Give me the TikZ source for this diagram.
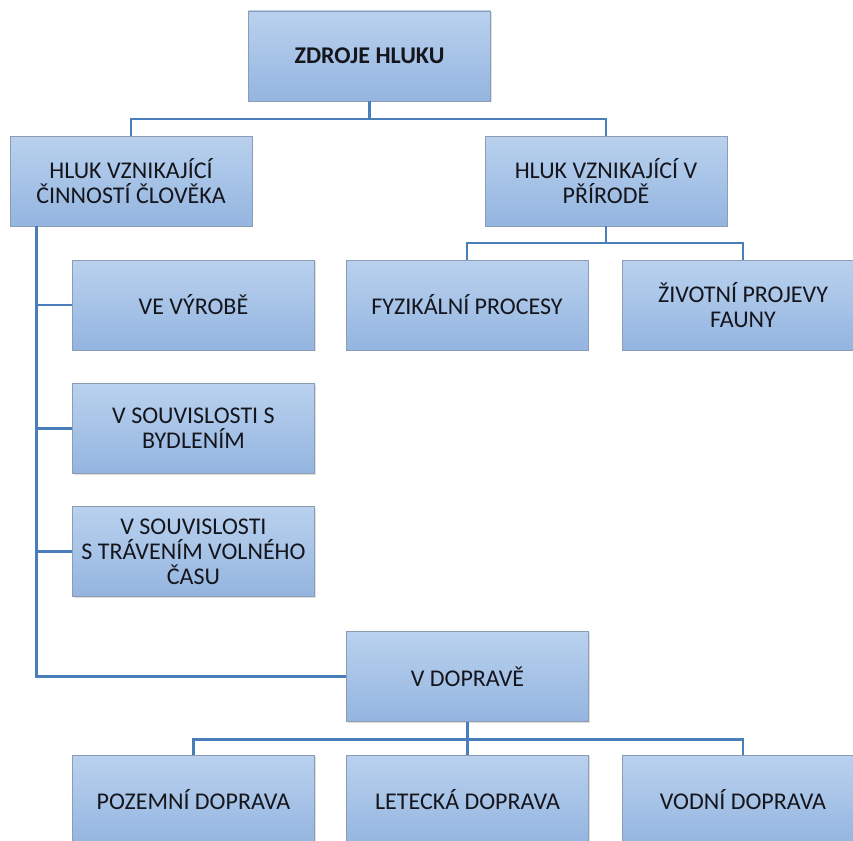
\documentclass[tikz,border=0pt]{standalone}
\usepackage{fontspec}
\setmainfont{Carlito}
\usetikzlibrary{shadows}
\definecolor{linec}{HTML}{4A7EBB}
\definecolor{boxtop}{HTML}{B9D1EE}
\definecolor{boxbot}{HTML}{94B5E0}
\definecolor{boxedge}{HTML}{8C9CB2}
\definecolor{txt}{HTML}{15151C}
\tikzset{
  box/.style={rectangle, draw=boxedge, line width=0.8pt, top color=boxtop, bottom color=boxbot,
    minimum width=242pt, minimum height=90pt, align=center, text=txt,
    font=\fontsize{24}{25}\selectfont,
    drop shadow={opacity=0.25, shadow xshift=1.2pt, shadow yshift=-1.2pt}},
  conn/.style={draw=linec, line width=2.4pt}
}
\begin{document}
\begin{tikzpicture}[x=1pt,y=-1pt]
\useasboundingbox (0,0) rectangle (853,840);
\clip (0,0) rectangle (853,840);
\fill[white] (0,0) rectangle (853,840);
\node[box, font=\fontsize{24}{25}\selectfont\bfseries] (top) at (369.5,56) {ZDROJE HLUKU};
\node[box] (hum) at (131,181) {HLUK VZNIKAJÍCÍ\\ČINNOSTÍ ČLOVĚKA};
\node[box] (nat) at (606,181) {HLUK VZNIKAJÍCÍ V\\PŘÍRODĚ};
\node[box] (fyz) at (467,305) {FYZIKÁLNÍ PROCESY};
\node[box] (ziv) at (743,305) {ŽIVOTNÍ PROJEVY\\FAUNY};
\node[box] (vyr) at (193.5,305) {VE VÝROBĚ};
\node[box] (byd) at (193.5,428.5) {V SOUVISLOSTI S\\BYDLENÍM};
\node[box] (vol) at (193.5,551.5) {V SOUVISLOSTI\\S TRÁVENÍM VOLNÉHO\\ČASU};
\node[box] (dop) at (467.5,676.5) {V DOPRAVĚ};
\node[box] (poz) at (193.5,800) {POZEMNÍ DOPRAVA};
\node[box] (let) at (467.5,800) {LETECKÁ DOPRAVA};
\node[box] (vod) at (743,800) {VODNÍ DOPRAVA};
\coordinate (hl) at ([xshift=27pt]hum.south west);
\draw[conn] (top.south) -- ++(0,17.5) -| (hum.north);
\draw[conn] (top.south) ++(0,17.5) -| (nat.north);
\draw[conn] (nat.south) -- ++(0,16.5) -| (fyz.north);
\draw[conn] (nat.south) ++(0,16.5) -| (ziv.north);
\draw[conn] (hl) |- (dop.west);
\draw[conn] (vyr.west) -- (vyr.west -| hl);
\draw[conn] (byd.west) -- (byd.west -| hl);
\draw[conn] (vol.west) -- (vol.west -| hl);
\draw[conn] (dop.south) -- ++(0,17.5) -| (poz.north);
\draw[conn] (dop.south) ++(0,17.5) -| (vod.north);
\draw[conn] (dop.south) -- (let.north);
\end{tikzpicture}
\end{document}
